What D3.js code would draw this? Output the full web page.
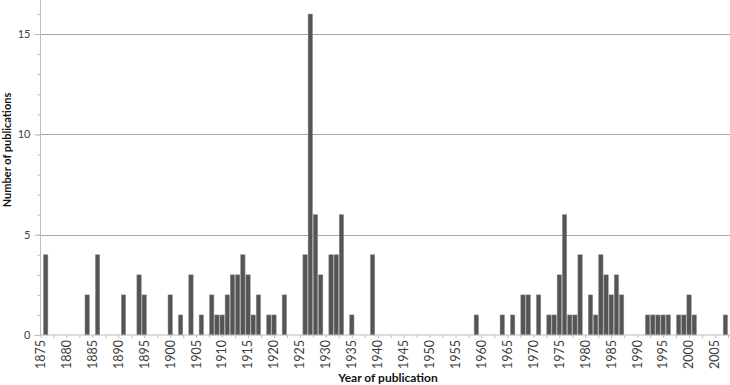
<!DOCTYPE html>
<html>
  <head>
    <meta charset="utf-8">
    <script src="https://d3js.org/d3.v7.min.js"></script>
    <title>Publications per year</title>
    <style>
      body { margin: 0px; background: #fff; }
      text { font-family: Lato, "Open Sans", sans-serif; }
    </style>
  </head>
  <body>
    <svg width="730" height="385"></svg>
    <script>
      // publication years and how many came out that year (years with no bar are left out)
      const years = [1876, 1884, 1886, 1891, 1894, 1895, 1900, 1902, 1904, 1906,
                     1908, 1909, 1910, 1911, 1912, 1913, 1914, 1915, 1916, 1917,
                     1919, 1920, 1922, 1926, 1927, 1928, 1929, 1931, 1932, 1933,
                     1935, 1939, 1959, 1964, 1966, 1968, 1969, 1971, 1973, 1974,
                     1975, 1976, 1977, 1978, 1979, 1981, 1982, 1983, 1984, 1985,
                     1986, 1987, 1992, 1993, 1994, 1995, 1996, 1998, 1999, 2000,
                     2001, 2007];
      const counts = [4, 2, 4, 2, 3, 2, 2, 1, 3, 1,
                      2, 1, 1, 2, 3, 3, 4, 3, 1, 2,
                      1, 1, 2, 4, 16, 6, 3, 4, 4, 6,
                      1, 4, 1, 1, 1, 2, 2, 2, 1, 1,
                      3, 6, 1, 1, 4, 2, 1, 4, 3, 2,
                      3, 2, 1, 1, 1, 1, 1, 1, 1, 2,
                      1, 1];
      const yearTicks = d3.range(1875, 2006, 5);
      const countTicks = [0, 5, 10, 15];

      const svg = d3.select('svg');
      const x0 = 40.5, y0 = 335;

      const xScale = d3.scaleLinear().domain([1875, 2005]).range([x0, 715]);
      const yScale = d3.scaleLinear().domain([0, 16.7]).range([y0, 0]);
      const barW = 4.4;

      // horizontal gridlines
      svg.append('g').selectAll('line').data(countTicks.slice(1))
        .enter().append('line')
          .attr('x1', x0).attr('x2', 730)
          .attr('y1', d => Math.round(yScale(d)) + 0.5)
          .attr('y2', d => Math.round(yScale(d)) + 0.5)
          .attr('stroke', '#a6a6a6');

      // bars
      svg.append('g').selectAll('rect').data(years)
        .enter().append('rect')
          .attr('x', d => xScale(d) - barW / 2)
          .attr('width', barW)
          .attr('y', (d, i) => yScale(counts[i]))
          .attr('height', (d, i) => y0 - yScale(counts[i]))
          .attr('fill', '#555555')
          .attr('stroke', '#8f8f8f')
          .attr('stroke-width', 0.5);

      // y axis: major ticks with labels, minor ticks every unit
      const yAxisG = svg.append('g').attr('transform', `translate(${x0},0)`);
      yAxisG.call(d3.axisLeft(yScale).tickValues(d3.range(0, 17)).tickSize(3).tickFormat(''));
      yAxisG.append('g').call(d3.axisLeft(yScale).tickValues(countTicks).tickSize(6).tickPadding(4));
      yAxisG.selectAll('.domain').remove();
      yAxisG.append('line').attr('y1', 0).attr('y2', y0).attr('stroke', '#bcbcbc');
      yAxisG.selectAll('line').attr('stroke', '#bcbcbc');
      yAxisG.selectAll('text').attr('fill', '#404040').style('font-size', '11px');

      // x axis
      const xAxisG = svg.append('g').attr('transform', `translate(0,${y0})`);
      xAxisG.call(d3.axisBottom(xScale).tickValues(d3.range(1875, 2008, 2.5)).tickSize(3).tickFormat(''));
      xAxisG.select('.domain').remove();
      xAxisG.append('line').attr('x1', x0).attr('x2', 730).attr('stroke', '#bcbcbc');
      xAxisG.selectAll('line').attr('stroke', '#bcbcbc');
      xAxisG.selectAll('text.yr').data(yearTicks)
        .enter().append('text')
          .attr('class', 'yr')
          .attr('transform', d => `translate(${xScale(d)},5) rotate(-90)`)
          .attr('dy', '0.35em')
          .attr('text-anchor', 'end')
          .attr('fill', '#404040')
          .style('font-size', '12.5px')
          .text(d => d);

      // axis titles
      svg.append('text')
        .attr('x', 388).attr('y', 382)
        .attr('text-anchor', 'middle')
        .style('font-size', '12px').style('font-weight', 'bold')
        .attr('fill', '#111')
        .text('Year of publication');

      svg.append('text')
        .attr('transform', 'translate(11,150) rotate(-90)')
        .attr('text-anchor', 'middle')
        .style('font-size', '11px').style('font-weight', 'bold')
        .attr('fill', '#111')
        .text('Number of publications');
    </script>
  </body>
</html>
